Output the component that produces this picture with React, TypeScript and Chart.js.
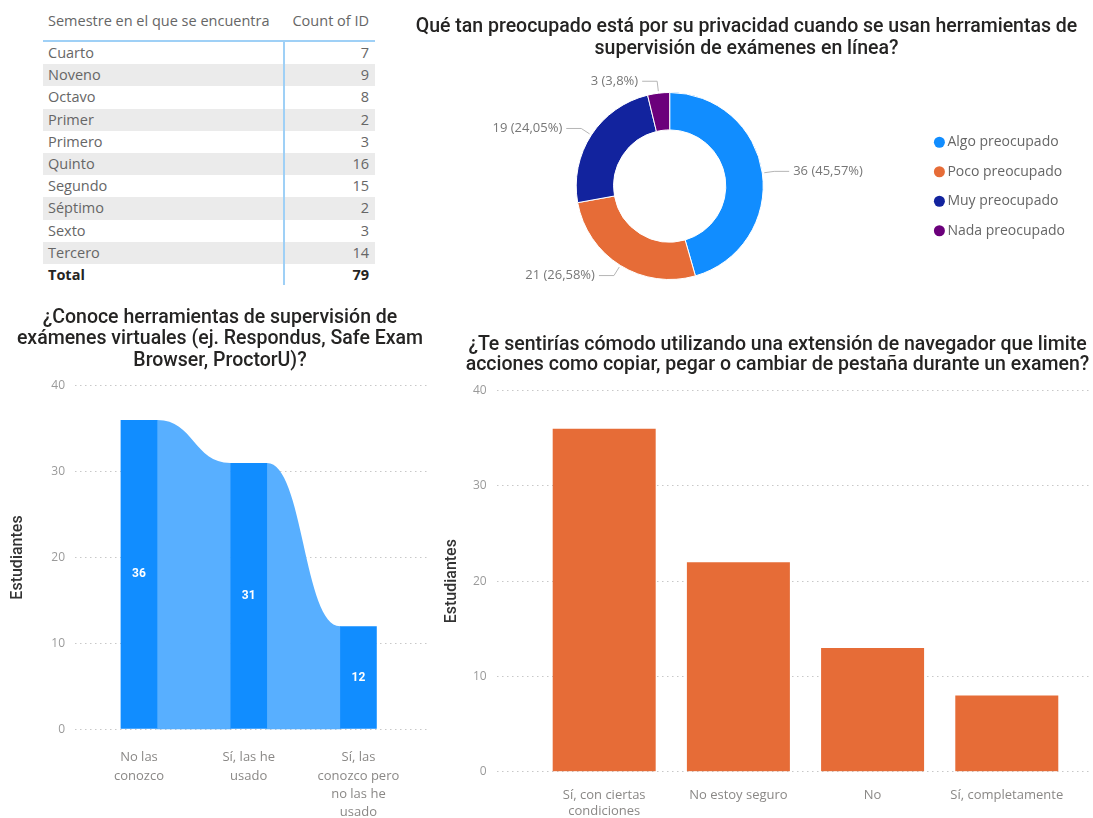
import React, { useEffect, useRef } from "react";
import { Chart, registerables } from "chart.js";

Chart.register(...registerables);

// ---------- DATA ----------
const semesters = ["Cuarto", "Noveno", "Octavo", "Primer", "Primero", "Quinto", "Segundo", "Séptimo", "Sexto", "Tercero"];
const semesterCounts = [7, 9, 8, 2, 3, 16, 15, 2, 3, 14];
const tableHeaders = ["Semestre en el que se encuentra", "Count of ID"];

const privacyTitle = ["Qué tan preocupado está por su privacidad cuando se usan herramientas de", "supervisión de exámenes en línea?"];
const privacyLabels = ["Algo preocupado", "Poco preocupado", "Muy preocupado", "Nada preocupado"];
const privacyValues = [36, 21, 19, 3];
const privacyColors = ["#118dff", "#e66c37", "#12239e", "#6b007b"];

const knowTitle = ["¿Conoce herramientas de supervisión de", "exámenes virtuales (ej. Respondus, Safe Exam", "Browser, ProctorU)?"];
const knowLabels = [["No las", "conozco"], ["Sí, las he", "usado"], ["Sí, las", "conozco pero", "no las he", "usado"]];
const knowValues = [36, 31, 12];

const comfortTitle = ["¿Te sentirías cómodo utilizando una extensión de navegador que limite", "acciones como copiar, pegar o cambiar de pestaña durante un examen?"];
const comfortLabels = [["Sí, con ciertas", "condiciones"], "No estoy seguro", "No", "Sí, completamente"];
const comfortValues = [36, 22, 13, 8];

const yAxisTitle = "Estudiantes";
const yMin = 0;
const yMax = 40;
const yStep = 10;

// ---------- STYLE ----------
const TITLE_FONT = '"Roboto", "DejaVu Sans", sans-serif';
const BODY_FONT = '"Open Sans", "Noto Sans", sans-serif';
const TITLE_SIZE = 19.5;
const TITLE_COLOR = "#252423";
const AXIS_COLOR = "#8a8886";
const GRID_COLOR = "#c8c8c8";

const ribbonPlugin = {
  id: "ribbons",
  beforeDatasetsDraw(chart: any) {
    const meta = chart.getDatasetMeta(0);
    const bars = meta.data;
    const base = chart.scales.y.getPixelForValue(0);
    const ctx = chart.ctx;
    ctx.save();
    ctx.fillStyle = "#58afff";
    for (let i = 0; i < bars.length - 1; i++) {
      const a = bars[i].getProps(["x", "y", "width"], true);
      const b = bars[i + 1].getProps(["x", "y", "width"], true);
      const x1 = a.x + a.width / 2;
      const x2 = b.x - b.width / 2;
      const mx = (x1 + x2) / 2;
      ctx.beginPath();
      ctx.moveTo(x1 - 0.5, base);
      ctx.lineTo(x1 - 0.5, a.y);
      ctx.lineTo(x1, a.y);
      ctx.bezierCurveTo(mx, a.y, mx, b.y, x2, b.y);
      ctx.lineTo(x2 + 0.5, b.y);
      ctx.lineTo(x2 + 0.5, base);
      ctx.closePath();
      ctx.fill();
    }
    ctx.restore();
  },
};

const barValuePlugin = {
  id: "barValues",
  afterDatasetsDraw(chart: any) {
    const meta = chart.getDatasetMeta(0);
    const ctx = chart.ctx;
    const values = chart.data.datasets[0].data;
    ctx.save();
    ctx.fillStyle = "#ffffff";
    ctx.font = `bold 12px ${TITLE_FONT}`;
    ctx.textAlign = "center";
    ctx.textBaseline = "middle";
    meta.data.forEach((bar: any, i: number) => {
      const p = bar.getProps(["x", "y", "base"], true);
      ctx.fillText(String(values[i].y), p.x, (p.y + p.base) / 2);
    });
    ctx.restore();
  },
};

function fmtPct(v: number, total: number) {
  const s = ((v / total) * 100).toFixed(2).replace(/0+$/, "").replace(/\.$/, "");
  return s.replace(".", ",");
}

// Let the title span the whole canvas even though the plot area is off-centre
const fullWidthTitlePlugin = {
  id: "fullWidthTitle",
  afterLayout(chart: any) {
    const t = chart.titleBlock;
    if (t) {
      t.left = 0;
      t.right = chart.width;
      t.width = chart.width;
    }
  },
};

const donutPlugin = {
  id: "donutExtras",
  afterDatasetsDraw(chart: any) {
    const ctx = chart.ctx;
    const meta = chart.getDatasetMeta(0);
    const total = privacyValues.reduce((a, b) => a + b, 0);
    ctx.save();
    ctx.font = `13px ${BODY_FONT}`;
    ctx.lineWidth = 1;
    meta.data.forEach((arc: any, i: number) => {
      const p = arc.getProps(["x", "y", "startAngle", "endAngle", "outerRadius"], true);
      const mid = (p.startAngle + p.endAngle) / 2;
      const c = Math.cos(mid);
      const s = Math.sin(mid);
      const r0 = p.outerRadius + 2;
      const r1 = p.outerRadius + 12;
      const x0 = p.x + c * r0, y0 = p.y + s * r0;
      const x1 = p.x + c * r1, y1 = p.y + s * r1;
      const dir = c >= 0 ? 1 : -1;
      const x2 = x1 + dir * 15;
      ctx.strokeStyle = "#b5b5b5";
      ctx.beginPath();
      ctx.moveTo(x0, y0);
      ctx.lineTo(x1, y1);
      ctx.lineTo(x2, y1);
      ctx.stroke();
      ctx.fillStyle = "#777777";
      ctx.textAlign = dir > 0 ? "left" : "right";
      ctx.textBaseline = "middle";
      ctx.fillText(`${privacyValues[i]} (${fmtPct(privacyValues[i], total)}%)`, x2 + dir * 4, y1);
    });
    // legend
    const area = chart.chartArea;
    const cy = (area.top + area.bottom) / 2;
    ctx.font = `14px ${BODY_FONT}`;
    ctx.textAlign = "left";
    ctx.textBaseline = "middle";
    privacyLabels.forEach((lab, i) => {
      const y = cy + (i - 1.5) * 29.5 + 0.5;
      ctx.fillStyle = privacyColors[i];
      ctx.beginPath();
      ctx.arc(area.right, y, 5.5, 0, Math.PI * 2);
      ctx.fill();
      ctx.fillStyle = "#666666";
      ctx.fillText(lab, area.right + 8, y);
    });
    ctx.restore();
  },
};

function makeDonut() {
  return {
    type: "doughnut",
    data: {
      labels: privacyLabels,
      datasets: [
        {
          data: privacyValues,
          backgroundColor: privacyColors,
          borderColor: "#ffffff",
          borderWidth: 1,
          clip: false,
        },
      ],
    },
    options: {
      animation: false,
      responsive: false,
      maintainAspectRatio: false,
      radius: 93.5,
      cutout: "60%",
      layout: { padding: { top: 0, left: 0, right: 153.6, bottom: 8.6 } },
      plugins: {
        legend: { display: false },
        tooltip: { enabled: false },
        title: {
          display: true,
          text: privacyTitle,
          color: TITLE_COLOR,
          font: { family: TITLE_FONT, size: TITLE_SIZE, weight: "500", lineHeight: 22.6 / TITLE_SIZE },
          padding: { top: 15.4, bottom: 10 },
        },
      },
    },
    plugins: [fullWidthTitlePlugin, donutPlugin],
  };
}

function barOptions(opts: {
  labels: any[];
  title: string[];
  titleLH: number;
  titlePad: { top: number; bottom: number };
  xMin: number;
  xMax: number;
  xHeight: number;
  xPad: number;
  xLH: number;
  yWidth: number;
  yTitlePad: number;
  padding: any;
}) {
  return {
    animation: false,
    responsive: false,
    maintainAspectRatio: false,
    layout: { padding: opts.padding },
    plugins: {
      legend: { display: false },
      tooltip: { enabled: false },
      title: {
        display: true,
        text: opts.title,
        color: TITLE_COLOR,
        font: { family: TITLE_FONT, size: TITLE_SIZE, weight: "500", lineHeight: opts.titleLH / TITLE_SIZE },
        padding: opts.titlePad,
      },
    },
    scales: {
      x: {
        type: "linear",
        offset: false,
        min: opts.xMin,
        max: opts.xMax,
        afterBuildTicks: (s: any) => {
          s.ticks = opts.labels.map((_: any, i: number) => ({ value: i }));
        },
        afterFit: (s: any) => {
          s.height = opts.xHeight;
        },
        grid: { display: false, drawTicks: false, offset: false },
        border: { display: false },
        ticks: {
          callback: (v: any) => opts.labels[v],
          padding: opts.xPad,
          maxRotation: 0,
          autoSkip: false,
          color: AXIS_COLOR,
          font: { family: BODY_FONT, size: 13, lineHeight: opts.xLH / 13 },
        },
      },
      y: {
        min: yMin,
        max: yMax,
        afterFit: (s: any) => {
          s.width = opts.yWidth;
        },
        ticks: {
          stepSize: yStep,
          padding: 10,
          color: "#9a9a9a",
          font: { family: BODY_FONT, size: 12 },
        },
        grid: { color: GRID_COLOR, drawTicks: false, lineWidth: 1 },
        border: { display: false, dash: [1.5, 3.5] },
        title: {
          display: true,
          text: yAxisTitle,
          color: "#333333",
          font: { family: TITLE_FONT, size: 16, weight: "500", lineHeight: 1.2 },
          padding: { top: opts.yTitlePad, bottom: 0 },
        },
      },
    },
  };
}

function makeKnow() {
  return {
    type: "bar",
    data: {
      datasets: [
        {
          data: knowValues.map((v, i) => ({ x: i, y: v })),
          backgroundColor: "#118dff",
          barPercentage: 0.3345,
          categoryPercentage: 1,
        },
      ],
    },
    options: barOptions({
      labels: knowLabels,
      title: knowTitle,
      titleLH: 21.5,
      titlePad: { top: 17, bottom: 14.2 },
      xMin: -0.583,
      xMax: 2.634,
      xHeight: 110,
      xPad: 19,
      xLH: 18.4,
      yWidth: 75,
      yTitlePad: 8.5,
      padding: { top: 0, left: 0, right: 12, bottom: 0.7 },
    }),
    plugins: [fullWidthTitlePlugin, ribbonPlugin, barValuePlugin],
  };
}

function makeComfort() {
  return {
    type: "bar",
    data: {
      datasets: [
        {
          data: comfortValues.map((v, i) => ({ x: i, y: v })),
          backgroundColor: "#e66c37",
          barPercentage: 0.7675,
          categoryPercentage: 1,
        },
      ],
    },
    options: barOptions({
      labels: comfortLabels,
      title: comfortTitle,
      titleLH: 20,
      titlePad: { top: 15, bottom: 15.7 },
      xMin: -0.801,
      xMax: 3.635,
      xHeight: 63.4,
      xPad: 15,
      xLH: 16.7,
      yWidth: 56.7,
      yTitlePad: 2.1,
      padding: { top: 0, left: 0, right: 23, bottom: 0.9 },
    }),
    plugins: [fullWidthTitlePlugin],
  };
}

function ChartBox(props: { left: number; top: number; width: number; height: number; make: () => any }) {
  const ref = useRef<HTMLCanvasElement>(null);
  useEffect(() => {
    const chart = new Chart(ref.current as HTMLCanvasElement, props.make());
    return () => chart.destroy();
  }, []);
  return (
    <div style={{ position: "absolute", left: props.left, top: props.top, width: props.width, height: props.height }}>
      <canvas ref={ref} width={props.width} height={props.height} style={{ display: "block", width: props.width, height: props.height }} />
    </div>
  );
}

function SemesterTable() {
  const total = semesterCounts.reduce((a, b) => a + b, 0);
  const rowH = 22.2;
  const cellText: React.CSSProperties = { position: "absolute", top: 0, height: rowH, lineHeight: `${rowH}px`, whiteSpace: "nowrap" };
  return (
    <div style={{ position: "absolute", left: 43, top: 0, width: 332, height: 290, fontFamily: BODY_FONT, fontSize: 14.5, color: "#666666" }}>
      <div style={{ ...cellText, top: 10, left: 5 }}>{tableHeaders[0]}</div>
      <div style={{ ...cellText, top: 10, right: 6 }}>{tableHeaders[1]}</div>
      <div style={{ position: "absolute", left: 0, top: 40, width: 332, height: 1.5, background: "#9fd0f6" }} />
      {semesters.map((s, i) => (
        <div key={s} style={{ position: "absolute", left: 0, top: 42 + i * rowH, width: 332, height: rowH, background: i % 2 === 1 ? "#ebebeb" : "transparent" }}>
          <div style={{ ...cellText, left: 5 }}>{s}</div>
          <div style={{ ...cellText, right: 6 }}>{semesterCounts[i]}</div>
        </div>
      ))}
      <div style={{ position: "absolute", left: 0, top: 42 + semesters.length * rowH, width: 332, height: rowH, fontWeight: 700, color: "#252423" }}>
        <div style={{ ...cellText, left: 5 }}>Total</div>
        <div style={{ ...cellText, right: 6 }}>{total}</div>
      </div>
      <div style={{ position: "absolute", left: 240, top: 40, width: 1.5, height: 245, background: "#9fd0f6" }} />
    </div>
  );
}

export default function App() {
  return (
    <div style={{ position: "fixed", left: 0, top: 0, width: 1093, height: 818, overflow: "hidden", background: "#ffffff" }}>
      <SemesterTable />
      <ChartBox left={400} top={0} width={693} height={310} make={makeDonut} />
      <ChartBox left={0} top={290} width={440} height={550} make={makeKnow} />
      <ChartBox left={440} top={320} width={675} height={516} make={makeComfort} />
    </div>
  );
}
